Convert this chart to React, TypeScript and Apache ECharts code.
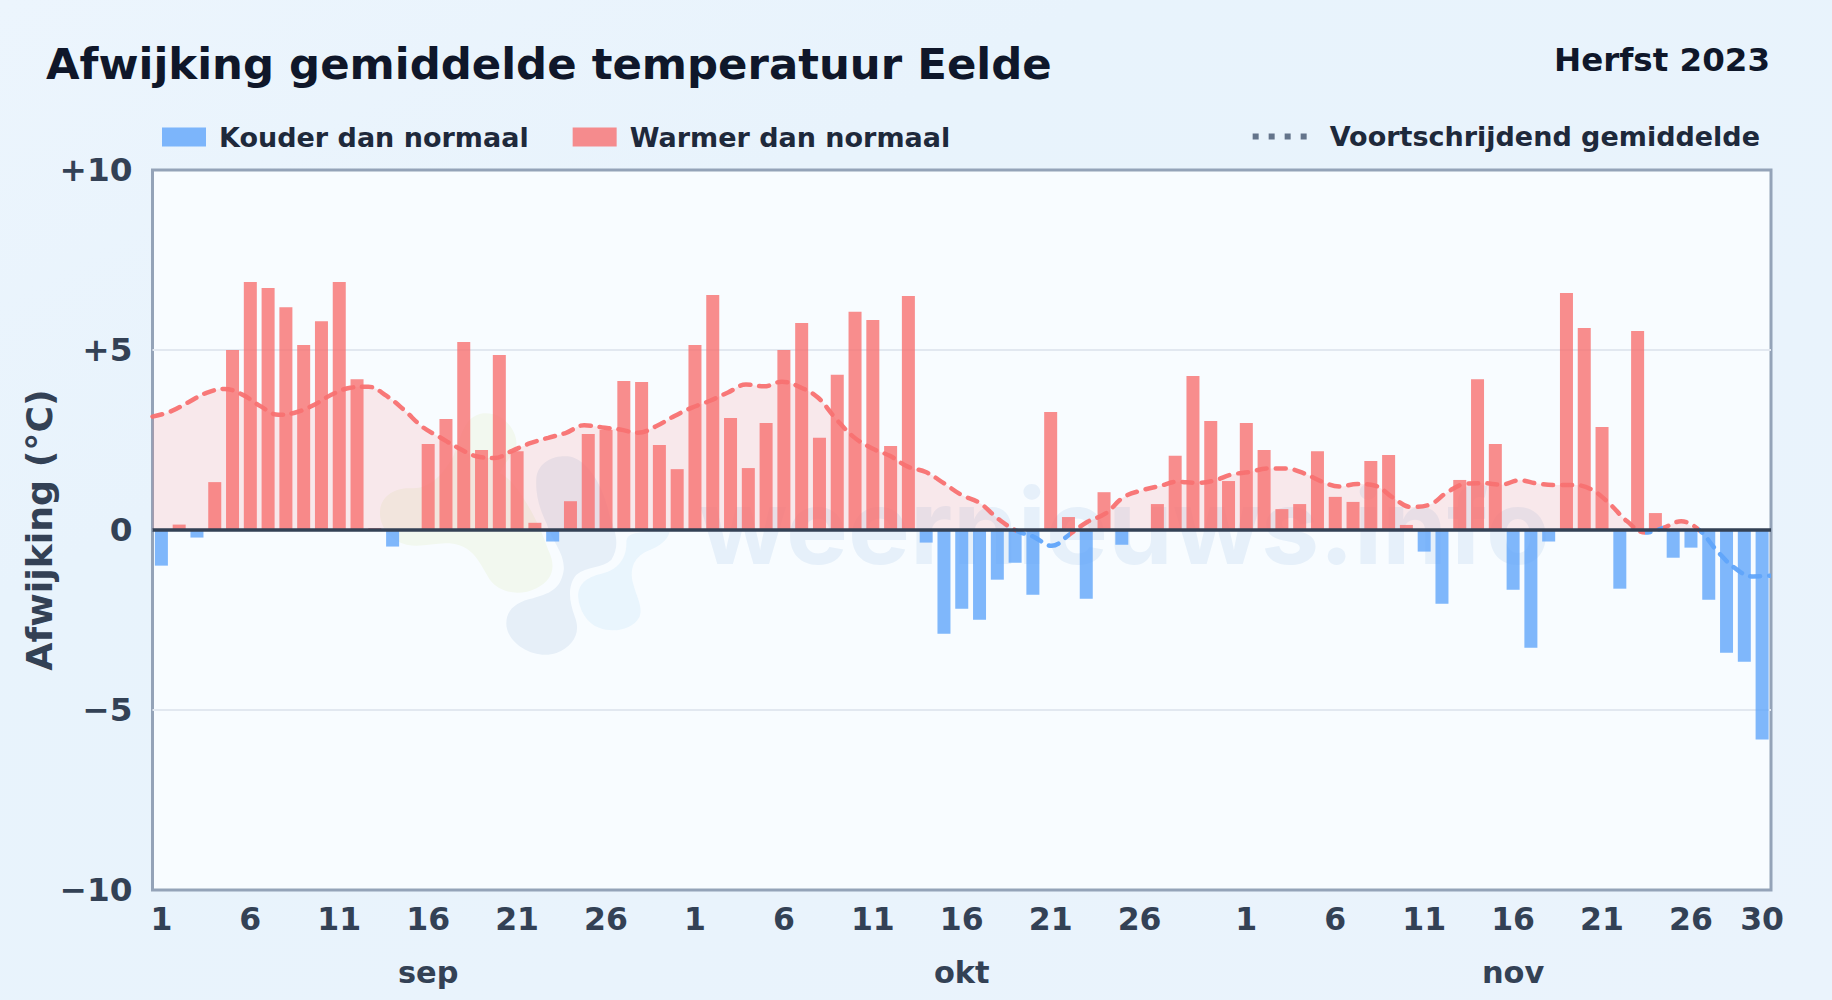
import React, { useEffect, useRef } from "react";
import * as echarts from "echarts";

const monthLengths = [30, 31, 30];
const monthNames = ["sep", "okt", "nov"];
const afwijking = [
  -0.99, 0.15, -0.21, 1.33, 5.0, 6.89, 6.72, 6.19, 5.14, 5.8, 6.89, 4.19, 0.05, -0.46, 0.0, 2.39, 3.08, 5.22, 2.22, 4.86, 2.19, 0.2, -0.32, 0.8, 2.67, 2.78, 4.14, 4.11, 2.36, 1.69,
  5.14, 6.53, 3.11, 1.72, 2.97, 5.0, 5.75, 2.56, 4.31, 6.06, 5.83, 2.33, 6.5, -0.35, -2.88, -2.19, -2.49, -1.38, -0.91, -1.8, 3.28, 0.36, -1.91, 1.05, -0.41, 0.0, 0.72, 2.06, 4.28, 3.03, 1.36,
  2.97, 2.22, 0.58, 0.72, 2.19, 0.92, 0.78, 1.92, 2.08, 0.14, -0.6, -2.05, 1.39, 4.19, 2.39, -1.66, -3.27, -0.32, 6.58, 5.61, 2.86, -1.63, 5.53, 0.47, -0.77, -0.49, -1.94, -3.41, -3.66, -5.82,
];
const voortschrijdend = [
  3.15, 3.29, 3.55, 3.81, 3.92, 3.76, 3.44, 3.2, 3.27, 3.48, 3.77, 3.95, 3.98, 3.73, 3.33, 2.87, 2.57, 2.28, 2.05, 2.0, 2.2, 2.41, 2.56, 2.7, 2.91, 2.85, 2.79, 2.7, 2.88, 3.16,
  3.4, 3.59, 3.82, 4.04, 3.99, 4.12, 3.97, 3.68, 3.09, 2.58, 2.27, 2.06, 1.76, 1.61, 1.3, 0.97, 0.75, 0.32, -0.01, -0.19, -0.44, -0.12, 0.23, 0.46, 0.91, 1.1, 1.22, 1.34, 1.31, 1.37, 1.54,
  1.61, 1.71, 1.71, 1.58, 1.35, 1.21, 1.28, 1.23, 0.89, 0.64, 0.7, 1.05, 1.28, 1.3, 1.26, 1.38, 1.29, 1.25, 1.25, 1.13, 0.74, 0.24, -0.07, 0.06, 0.24, 0.0, -0.58, -1.06, -1.29, -1.27,
];
const blueStretches = [[48, 50.7], [82.7, 83.5], [85.5, 90]];
const yTicks: Record<string, string> = { "10": "+10", "5": "+5", "0": "0", "-5": "\u22125", "-10": "\u221210" };

const dayNumbers = monthLengths.flatMap((n) => Array.from({ length: n }, (_, i) => i + 1));
const categories = dayNumbers.map((d, i) => `${d}-${i}`);
const monthLabelIndex: Record<number, string> = {};
monthLengths.reduce((start, n, m) => {
  monthLabelIndex[start + 15] = monthNames[m];
  return start + n;
}, 0);

const RED = "#f87171";
const BLUE = "#60a5fa";
const font = "'DejaVu Sans', sans-serif";

const GREEN_BLOB = "M120 340C120 285 170 262 215 265C260 268 300 240 340 170C365 110 370 50 430 40C490 35 530 90 530 130C530 160 500 175 480 220C530 240 600 370 625 450C650 500 640 540 590 565C540 590 480 580 450 540C420 490 400 440 340 432C290 425 250 445 200 435C150 420 120 380 120 340Z";
const SLATE_BLOB = "M500 680C495 630 530 605 580 595C640 580 665 560 672 510C675 460 640 430 620 370C600 330 585 280 590 230C600 180 650 165 690 170C740 180 790 250 810 350C830 400 840 440 815 480C790 505 740 500 710 525C680 560 690 610 705 650C725 700 700 740 650 760C590 780 510 740 500 680Z";
const SKY_BLOB = "M715 590C715 545 750 530 790 520C830 510 860 480 860 430C860 400 880 395 990 395C985 420 960 440 920 455C880 475 870 510 880 550C890 590 910 620 900 650C880 690 820 700 780 685C740 670 718 630 715 590Z";
echarts.graphic.registerShape("wmGreen", echarts.graphic.extendPath(GREEN_BLOB, {}));
echarts.graphic.registerShape("wmSlate", echarts.graphic.extendPath(SLATE_BLOB, {}));
echarts.graphic.registerShape("wmSky", echarts.graphic.extendPath(SKY_BLOB, {}));

const sections: any[] = [];
let cursor = 0;
blueStretches.forEach(([a, b]) => {
  sections.push({ gt: cursor === 0 ? -1 : cursor, lte: a, color: RED });
  sections.push({ gt: a, lte: b, color: BLUE });
  cursor = b;
});
if (cursor < afwijking.length - 1) sections.push({ gt: cursor, color: RED });

const isLabelled = (i: number) => (dayNumbers[i] - 1) % 5 === 0 && dayNumbers[i] !== 31 || i === dayNumbers.length - 1;

const option: any = {
  animation: false,
  backgroundColor: {
    type: "linear", x: 0, y: 0, x2: 1, y2: 1,
    colorStops: [{ offset: 0, color: "#ecf5fd" }, { offset: 0.3, color: "#e8f3fc" }, { offset: 1, color: "#eaf3fc" }],
  },
  textStyle: { fontFamily: font },
  title: [
    { text: "Afwijking gemiddelde temperatuur Eelde", left: 46, top: 42, padding: 0, textStyle: { fontFamily: font, fontWeight: "bold", fontSize: 43.4, color: "#0f172a" } },
    { text: "Herfst 2023", right: 62, top: 43, padding: 0, textStyle: { fontFamily: font, fontWeight: "bold", fontSize: 32.5, color: "#0f172a" } },
  ],
  legend: [
    {
      left: 162, top: 123.5, padding: 0, itemWidth: 44, itemHeight: 19, itemGap: 44, selectedMode: false, icon: "rect",
      data: ["Kouder dan normaal", "Warmer dan normaal"],
      textStyle: { fontFamily: font, fontWeight: "bold", fontSize: 27, color: "#1e293b", padding: [0, 0, 0, 8] },
    },
    {
      right: 72, top: 123, padding: 0, itemWidth: 54, itemHeight: 6, selectedMode: false,
      data: [{ name: "Voortschrijdend gemiddelde", icon: "path://M0 0h6v6H0zM16 0h6v6h-6zM32 0h6v6h-6zM48 0h6v6h-6z", itemStyle: { color: "#64748b" } }],
      textStyle: { fontFamily: font, fontWeight: "bold", fontSize: 27, color: "#1e293b", padding: [0, 0, 0, 18] },
    },
  ],
  grid: { show: true, left: 152.5, right: 61, top: 170, bottom: 110, backgroundColor: "#f8fcff", borderColor: "#94a3b8", borderWidth: 3 },
  xAxis: [
    {
      type: "category", data: categories, position: "bottom",
      axisLine: { show: false, onZero: false }, axisTick: { show: false }, splitLine: { show: false },
      axisLabel: {
        interval: (i: number) => isLabelled(i),
        formatter: (_: string, i: number) => String(dayNumbers[i]),
        fontFamily: font, fontWeight: "bold", fontSize: 31.5, color: "#334155", margin: 13,
      },
    },
    {
      type: "category", data: categories, position: "bottom", offset: 54,
      axisLine: { show: false, onZero: false }, axisTick: { show: false }, splitLine: { show: false },
      axisLabel: {
        interval: (i: number) => i in monthLabelIndex,
        formatter: (_: string, i: number) => monthLabelIndex[i] ?? "",
        fontFamily: font, fontWeight: "bold", fontSize: 30.4, color: "#334155", margin: 13,
      },
    },
    {
      type: "category", data: categories, boundaryGap: false, show: false,
    },
  ],
  yAxis: {
    type: "value", min: -10, max: 10, interval: 5,
    name: "Afwijking (\u00b0C)", nameLocation: "middle", nameGap: 95, nameRotate: 90, nameMoveOverlap: false,
    nameTextStyle: { fontFamily: font, fontWeight: "bold", fontSize: 36.3, color: "#334155" },
    axisLine: { show: false }, axisTick: { show: false },
    axisLabel: { formatter: (v: number) => yTicks[String(v)], fontFamily: font, fontWeight: "bold", fontSize: 32.7, color: "#334155", margin: 20 },
    splitLine: { showMinLine: false, showMaxLine: false, lineStyle: { color: "#e2e8f0", width: 2 } },
  },
  visualMap: { show: false, type: "piecewise", dimension: 0, seriesIndex: 3, pieces: sections },
  graphic: [
    { type: "text", z: 1, silent: true, x: 699, y: 578, style: { text: "weernieuws.info", fontFamily: "Inter, sans-serif", fontWeight: 700, fontSize: 104, fill: "#e6f0fa", textVerticalAlign: "bottom" } },
    { type: "wmGreen", z: 1, silent: true, x: 340, y: 400, scaleX: 1 / 3, scaleY: 1 / 3, style: { fill: "#f2f8ef" } },
    { type: "wmSlate", z: 1, silent: true, x: 340, y: 400, scaleX: 1 / 3, scaleY: 1 / 3, style: { fill: "#e6eff8" } },
    { type: "wmSky", z: 1, silent: true, x: 340, y: 400, scaleX: 1 / 3, scaleY: 1 / 3, style: { fill: "#e9f5fd" } },
  ],
  series: [
    {
      name: "Kouder dan normaal", type: "bar", barWidth: 13, barGap: "-100%",
      data: afwijking.map((v) => (v < 0 ? v : null)),
      itemStyle: { color: BLUE, opacity: 0.8 },
    },
    {
      name: "Warmer dan normaal", type: "bar", barWidth: 13, barGap: "-100%",
      data: afwijking.map((v) => (v >= 0 ? v : null)),
      itemStyle: { color: RED, opacity: 0.8 },
      markLine: { silent: true, symbol: "none", label: { show: false }, z: 6, data: [{ yAxis: 0 }], lineStyle: { color: "#334155", width: 3.5, type: "solid" } },
    },
    {
      name: "Warmte-vlak", type: "line", xAxisIndex: 2, smooth: 0.4, showSymbol: false, symbol: "none", silent: true,
      data: voortschrijdend.map((v) => Math.max(v, 0)),
      lineStyle: { width: 0 }, itemStyle: { color: RED }, areaStyle: { color: RED, opacity: 0.14, origin: 0 }, z: 1,
    },
    {
      name: "Voortschrijdend gemiddelde", type: "line", xAxisIndex: 2, smooth: 0.4, showSymbol: false, symbol: "none",
      data: voortschrijdend,
      itemStyle: { color: "#64748b" },
      lineStyle: { width: 4.5, type: [10, 9], cap: "round", opacity: 0.95 }, z: 4,
    },
  ],
};

export default function App() {
  const ref = useRef<HTMLDivElement>(null);
  useEffect(() => {
    document.body.style.margin = "0";
    const chart = echarts.init(ref.current!, undefined, { renderer: "svg" });
    chart.setOption(option);
    return () => chart.dispose();
  }, []);
  return <div ref={ref} style={{ width: 1832, height: 1000 }} />;
}
